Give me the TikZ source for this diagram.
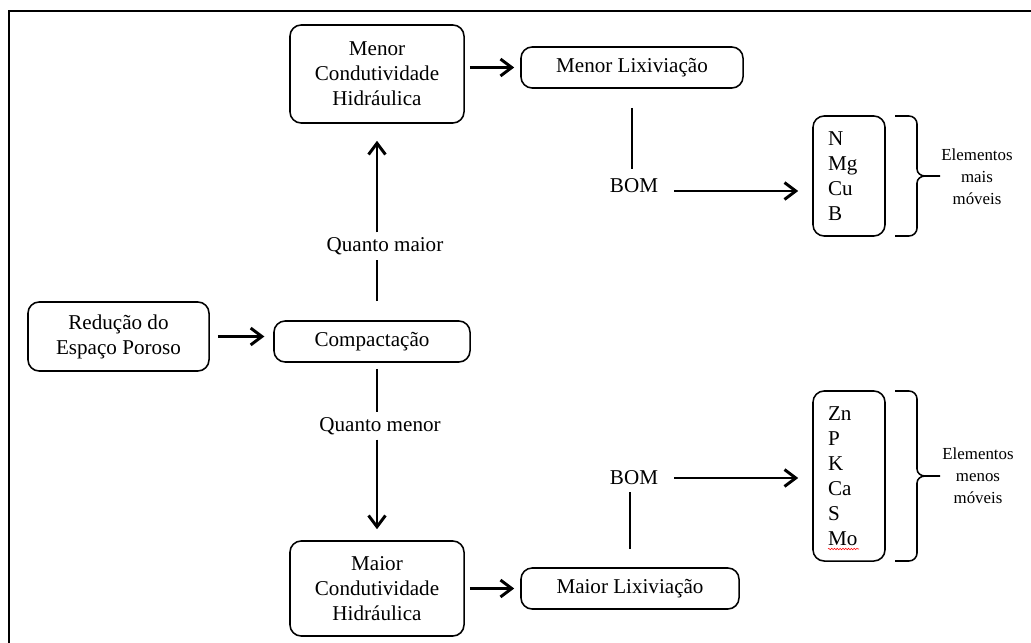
\documentclass[tikz,border=0pt]{standalone}
\usepackage{fontspec}
\setmainfont{Liberation Serif}
\usetikzlibrary{arrows.meta,decorations.pathmorphing}

\begin{document}
\begin{tikzpicture}[x=0.025cm,y=-0.025cm]
    \tikzstyle{box}=[draw=black,line width=1.1pt,rounded corners=0.28cm,align=center,inner sep=0pt,font=\fontsize{15}{17.8}\selectfont]
    \tikzstyle{elem}=[box,align=left,text width=1.05cm,inner xsep=0.375cm,minimum width=1.8cm]
    \tikzstyle{word}=[font=\fontsize{15}{17.8}\selectfont]
    \tikzstyle{group}=[align=center,font=\fontsize{12}{15.6}\selectfont]
    \tikzstyle{arrow}=[line width=2.1pt,-{Straight Barb[length=8pt,width=12pt]}]
    \tikzstyle{link}=[line width=2.1pt]
    \tikzstyle{brace}=[line width=1.1pt]

    \useasboundingbox (0,0) rectangle (1031,643);
    \draw[line width=1.1pt] (9,643) -- (9,11) -- (1031,11);

    \node (condmenor)[box,minimum width=4.35cm,minimum height=2.45cm] at (377,74) {Menor\\Condutividade\\Hidráulica};
    \node (lixmenor)[box,minimum width=5.55cm,minimum height=1.025cm] at (632,67.5) {Menor Lixiviação};
    \node (reducao)[box,minimum width=4.525cm,minimum height=1.725cm] at (118.5,336.5) {Redução do\\Espaço Poroso};
    \node (compac)[box,minimum width=4.9cm,minimum height=1.025cm] at (372,341.5) {Compactação};
    \node (condmaior)[box,minimum width=4.35cm,minimum height=2.375cm] at (377,588.5) {Maior\\Condutividade\\Hidráulica};
    \node (lixmaior)[box,minimum width=5.45cm,minimum height=1.025cm] at (630,588.5) {Maior Lixiviação};

    \node (qmaior)[word] at (385,246) {Quanto maior};
    \node (qmenor)[word] at (380,426) {Quanto menor};
    \node (bomA)[word] at (634,186) {BOM};
    \node (bomB)[word] at (634,478) {BOM};

    \node (elemA)[elem,minimum height=3cm] at (849,176) {N\\Mg\\Cu\\B};
    \node (elemB)[elem,minimum height=4.25cm] at (849,476) {Zn\\P\\K\\Ca\\S\\Mo};
    \draw[red,line width=0.4pt,decorate,decoration={snake,amplitude=0.5pt,segment length=2pt}] (828,549) -- (859,549);

    \node (grupoA)[group] at (977,177) {Elementos\\mais\\móveis};
    \node (grupoB)[group] at (978,476) {Elementos\\menos\\móveis};

    \draw[brace] (895,116) -- (909,116) to[out=0,in=90] (917,124) -- (917,169) to[out=-90,in=180] (925,176) -- (940,176);
    \draw[brace] (925,176) to[out=180,in=90] (917,183) -- (917,228) to[out=-90,in=0] (909,236) -- (895,236);
    \draw[brace] (895,391) -- (909,391) to[out=0,in=90] (917,399) -- (917,469) to[out=-90,in=180] (925,476) -- (940,476);
    \draw[brace] (925,476) to[out=180,in=90] (917,483) -- (917,553) to[out=-90,in=0] (909,561) -- (895,561);

    \draw[arrow,shorten <=0.2cm,shorten >=0.22cm] (reducao.east) -- (reducao.east -| compac.west);
    \draw[link,shorten <=0.475cm] (compac.north -| condmenor.south) -- (qmaior.south -| condmenor.south);
    \draw[arrow,shorten >=0.425cm] (qmaior.north -| condmenor.south) -- (condmenor.south);
    \draw[link,shorten <=0.15cm] (compac.south -| condmaior.north) -- (qmenor.north -| condmaior.north);
    \draw[arrow,shorten >=0.275cm] (qmenor.south -| condmaior.north) -- (condmaior.north);
    \draw[arrow,shorten <=0.125cm,shorten >=0.15cm] (condmenor.east |- lixmenor.west) -- (lixmenor.west);
    \draw[arrow,shorten <=0.125cm,shorten >=0.15cm] (condmaior.east) -- (condmaior.east -| lixmaior.west);
    \draw[link,shorten <=0.475cm,shorten >=0.125cm] (lixmenor.south) -- (lixmenor.south |- bomA.north);
    \draw[link,shorten <=0.45cm,shorten >=0.05cm] (lixmaior.north) -- (lixmaior.north |- bomB.south);
    \draw[arrow,shorten <=0.275cm,shorten >=0.35cm] ([yshift=-0.125cm]bomA.east) -- ([yshift=-0.125cm]bomA.east -| elemA.west);
    \draw[arrow,shorten <=0.275cm,shorten >=0.35cm] (bomB.east) -- (bomB.east -| elemB.west);
\end{tikzpicture}
\end{document}
